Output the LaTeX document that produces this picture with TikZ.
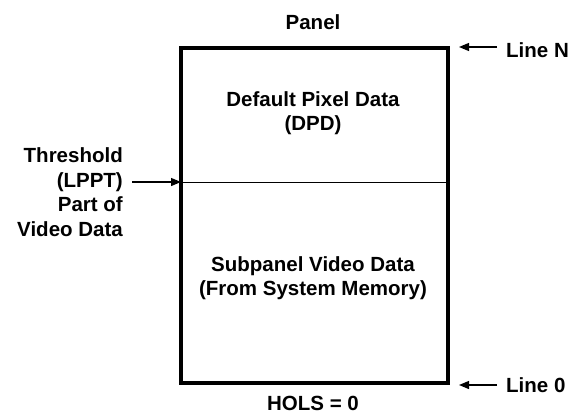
\documentclass[tikz,border=0pt]{standalone}
\usepackage{fontspec}
\setmainfont{Liberation Sans}
\usetikzlibrary{arrows.meta}
\begin{document}
\begin{tikzpicture}[x=1pt,y=-1pt,
  lbl/.style={font=\fontsize{20.5}{24.5}\selectfont\bfseries, inner sep=0pt, align=center},
  ptr/.style={-{Triangle[length=10pt,width=8pt]}, line width=1.2pt},
  frame/.style={line width=3.5pt}]
\useasboundingbox (0,0) rectangle (570,415);
\coordinate (tl) at (181,48);
\coordinate (br) at (448,383);
\draw[frame] (tl) rectangle (br);
\coordinate (dl) at (181,182);
\coordinate (dr) at (448,182);
\draw[line width=1pt] (dl) -- (dr);
\node[lbl] (panel) at (313,22) {Panel};
\node[lbl] (hols) at (313,403) {HOLS = 0};
\node[lbl] (dpd) at (313,113) {Default Pixel Data\\(DPD)};
\node[lbl] (sub) at (313,278) {Subpanel Video Data\\(From System Memory)};
\node[lbl, align=right, anchor=east] (thr) at (123,192) {Threshold\\(LPPT)\\Part of\\Video Data};
\node[lbl, anchor=west] (ln) at (506,50) {Line N};
\node[lbl, anchor=west] (l0) at (506,385) {Line 0};
\coordinate (a1s) at (132,182);
\draw[ptr] (a1s) -- (dl);
\coordinate (aNs) at (497,47);
\coordinate (aNe) at (459,47);
\draw[ptr] (aNs) -- (aNe);
\coordinate (a0s) at (497,385);
\coordinate (a0e) at (459,385);
\draw[ptr] (a0s) -- (a0e);
\end{tikzpicture}
\end{document}
